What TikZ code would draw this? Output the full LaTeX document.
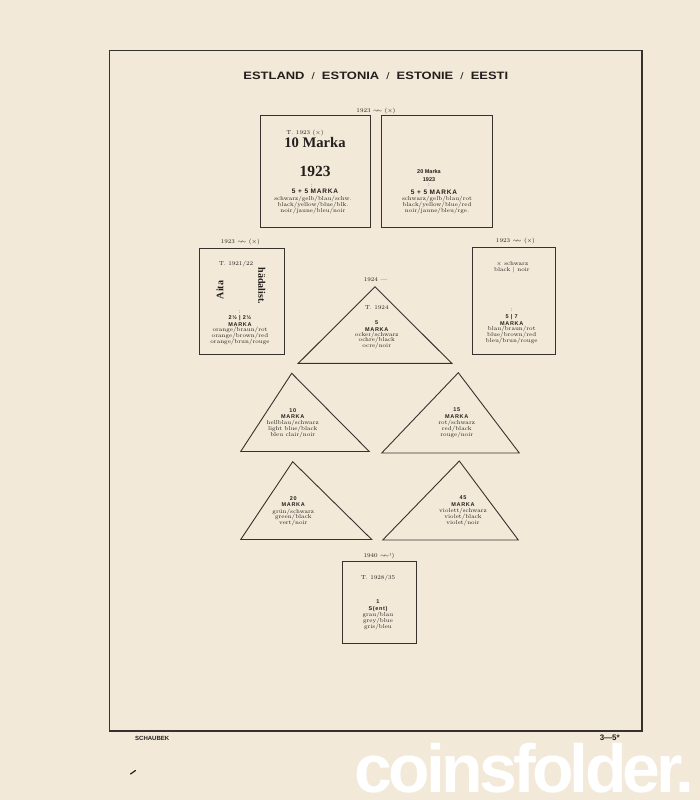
\documentclass[tikz,border=0pt]{standalone}
\usepackage{fontspec}
\newfontfamily\sansf{Liberation Sans}
\newfontfamily\mkfont[LetterSpace=12]{Liberation Sans}
\newfontfamily\serbf{Liberation Serif}
\newfontfamily\wmfont[LetterSpace=-5.5]{Liberation Sans}
\definecolor{bg}{RGB}{243,233,216}
\definecolor{ink}{RGB}{35,31,28}
\definecolor{lin}{RGB}{55,50,46}
\newcommand\wv{$\sim\!\!\sim$}
\newcommand\tsep{\hspace{0.55em}{\fontsize{9.5}{9.5}\selectfont\mdseries/}\hspace{0.55em}}
\tikzset{
  sm/.style={font=\fontsize{5.8}{7}\selectfont, inner sep=0pt, anchor=base, text=ink},
  smb/.style={font=\sansf\bfseries\fontsize{5.5}{6}\selectfont, inner sep=0pt, anchor=base, text=ink},
  mk/.style={font=\mkfont\bfseries\fontsize{5.5}{6}\selectfont, inner sep=0pt, anchor=base, text=ink},
  mkb/.style={mk, font=\mkfont\bfseries\fontsize{6.5}{7}\selectfont},
  bigser/.style={font=\serbf\bfseries\fontsize{14.6}{16}\selectfont, inner sep=0pt, anchor=base, text=ink},
  rotbold/.style={font=\serbf\bfseries\fontsize{10}{12}\selectfont, inner sep=0pt, text=ink},
  stampbox/.style={draw=lin, line width=1pt, inner sep=0pt},
  tri/.style={draw=lin, line width=0.9pt, line join=miter},
  frame/.style={draw=lin, line width=1.3pt},
  titlef/.style={font=\sansf\bfseries\fontsize{10.7}{12}\selectfont, inner sep=0pt, anchor=base, text=ink},
  foot/.style={font=\sansf\bfseries\fontsize{6}{7}\selectfont, inner sep=0pt, text=ink},
}
\begin{document}
\begin{tikzpicture}[x=1pt,y=-1pt]
\useasboundingbox (0,0) rectangle (700,800);
\fill[bg] (0,0) rectangle (700,800);
\draw[frame] (109.5,50.5) rectangle (642,731);
\node[titlef] (title) at (375.8,79.3) {\scalebox{1.21}[1]{ESTLAND\tsep ESTONIA\tsep ESTONIE\tsep EESTI}};

% top pair
\node[sm] (lab1) at (376,112.3) {1923 \wv\ (×)};
\node[stampbox, minimum width=110pt, minimum height=112pt] (b1) at (315,171) {};
\node[stampbox, minimum width=111pt, minimum height=112pt] (b2) at (436.6,171) {};
\node[sm] (b1t) at (305,134.8) {T. 1923 (×)};
\node[bigser] (b1a) at (315,147) {10 Marka};
\node[bigser, font=\serbf\bfseries\fontsize{15.5}{17}\selectfont] (b1b) at (315,176) {1923};
\node[sm] (b1c) at (312,187.5) {:};
\node[mkb] (b1d) at (315,193.3) {5 + 5 MARKA};
\node[sm] (b1e) at (313,200.5) {schwarz/gelb/blau/schw.};
\node[sm] (b1f) at (313,206.7) {black/yellow/blue/blk.};
\node[sm] (b1g) at (313,212.8) {noir/jaune/bleu/noir};

\node[smb] (b2a) at (429,173.3) {20 Marka};
\node[smb] (b2b) at (429,181.3) {1923};
\node[sm] (b2c) at (429,186.5) {:};
\node[mkb] (b2d) at (434,194) {5 + 5 MARKA};
\node[sm] (b2e) at (437,200) {schwarz/gelb/blau/rot};
\node[sm] (b2f) at (437,206) {black/yellow/blue/red};
\node[sm] (b2g) at (437,212) {noir/jaune/bleu/rge.};

% left box
\node[sm] (lab3) at (240.3,243.5) {1923 \wv\ (×)};
\node[stampbox, minimum width=84.7pt, minimum height=106pt] (b3) at (241.7,301.4) {};
\node[sm] (b3t) at (236,265) {T. 1921/22};
\node[rotbold, rotate=90] (b3a) at (220,290) {Aita};
\node[rotbold, rotate=-90] (b3b) at (261.7,285.7) {hädalist.};
\node[sm] (b3c) at (240,313.5) {:};
\node[mk] (b3d) at (240,319.3) {2½ | 2½};
\node[mk] (b3e) at (240,326.3) {MARKA};
\node[sm] (b3f) at (240,331.8) {orange/braun/rot};
\node[sm] (b3g) at (240,337.5) {orange/brown/red};
\node[sm] (b3h) at (240,343.5) {orange/brun/rouge};

% right box
\node[sm] (lab4) at (515.5,242.8) {1923 \wv\ (×)};
\node[stampbox, minimum width=83.4pt, minimum height=106.6pt] (b4) at (514,301) {};
\node[sm] (b4a) at (512.3,265.8) {× schwarz};
\node[sm] (b4b) at (512,271.5) {black | noir};
\node[sm] (b4c) at (511.7,311.5) {:};
\node[mk] (b4d) at (511.7,318.7) {5 | 7};
\node[mk] (b4e) at (511.7,325.3) {MARKA};
\node[sm] (b4f) at (511.7,330.8) {blau/braun/rot};
\node[sm] (b4g) at (511.7,336.8) {blue/brown/red};
\node[sm] (b4h) at (511.7,342.8) {bleu/brun/rouge};

% centre triangle
\node[sm] (lab0) at (375.7,281.8) {1924 —};
\draw[tri] (375,286.7) -- (298.3,363.3) -- (451.7,363.3) -- cycle;
\node[sm] (t0a) at (376.7,309.2) {T. 1924};
\node[mk] (t0b) at (376.7,324.3) {5};
\node[mk] (t0c) at (376.7,331) {MARKA};
\node[sm] (t0d) at (376.7,336) {ocker/schwarz};
\node[sm] (t0e) at (376.7,341.7) {ochre/black};
\node[sm] (t0f) at (376.7,347) {ocre/noir};

% row 2
\draw[tri] (291.7,373.3) -- (240.7,451.5) -- (369.3,451.5) -- cycle;
\node[mk] (t1a) at (292.7,412) {10};
\node[mk] (t1b) at (292.7,418.7) {MARKA};
\node[sm] (t1c) at (292.7,424) {hellblau/schwarz};
\node[sm] (t1d) at (292.7,430) {light blue/black};
\node[sm] (t1e) at (292.7,436.7) {bleu clair/noir};

\draw[tri] (458.3,372.7) -- (381.7,453) -- (519.3,453) -- cycle;
\node[mk] (t2a) at (456.7,411.3) {15};
\node[mk] (t2b) at (456.7,418) {MARKA};
\node[sm] (t2c) at (456.7,424) {rot/schwarz};
\node[sm] (t2d) at (456.7,430) {red/black};
\node[sm] (t2e) at (456.7,436.7) {rouge/noir};

% row 3
\draw[tri] (292.7,461.7) -- (240.7,539.5) -- (371.7,539.5) -- cycle;
\node[mk] (t3a) at (293.3,500.3) {20};
\node[mk] (t3b) at (293.3,506) {MARKA};
\node[sm] (t3c) at (293.3,513.4) {grün/schwarz};
\node[sm] (t3d) at (293.3,518.6) {green/black};
\node[sm] (t3e) at (293.3,524.3) {vert/noir};

\draw[tri] (459.3,461) -- (382.7,540) -- (518.3,540) -- cycle;
\node[mk] (t4a) at (463,499.3) {45};
\node[mk] (t4b) at (463,506) {MARKA};
\node[sm] (t4c) at (463,512.4) {violett/schwarz};
\node[sm] (t4d) at (463,518.4) {violet/black};
\node[sm] (t4e) at (463,524.3) {violet/noir};

% bottom box
\node[sm] (lab5) at (379,557.5) {1940 \wv¹)};
\node[stampbox, minimum width=74.5pt, minimum height=82pt] (b5) at (379.7,602.3) {};
\node[sm] (b5a) at (378,579.5) {T. 1928/35};
\node[mk] (b5b) at (378,603.5) {1};
\node[mk] (b5c) at (378,610) {S(ent)};
\node[sm] (b5d) at (378,616.5) {grau/blau};
\node[sm] (b5e) at (378,622) {grey/blue};
\node[sm] (b5f) at (378,628) {gris/bleu};

% footer
\node[foot, anchor=base west] (f1) at (135,740.7) {SCHAUBEK};
\node[foot, anchor=base east, font=\sansf\bfseries\fontsize{8}{9}\selectfont] (f2) at (620,740.5) {3—5*};
\node[anchor=base west, inner sep=0pt, text depth=0pt, text=white, font=\wmfont\bfseries\fontsize{68}{76}\selectfont] (wm) at (354,792) {coinsfolder.};
\draw[ink, line width=1.2pt, line cap=round] (130.5,774) -- (135.5,770.5);
\end{tikzpicture}
\end{document}
